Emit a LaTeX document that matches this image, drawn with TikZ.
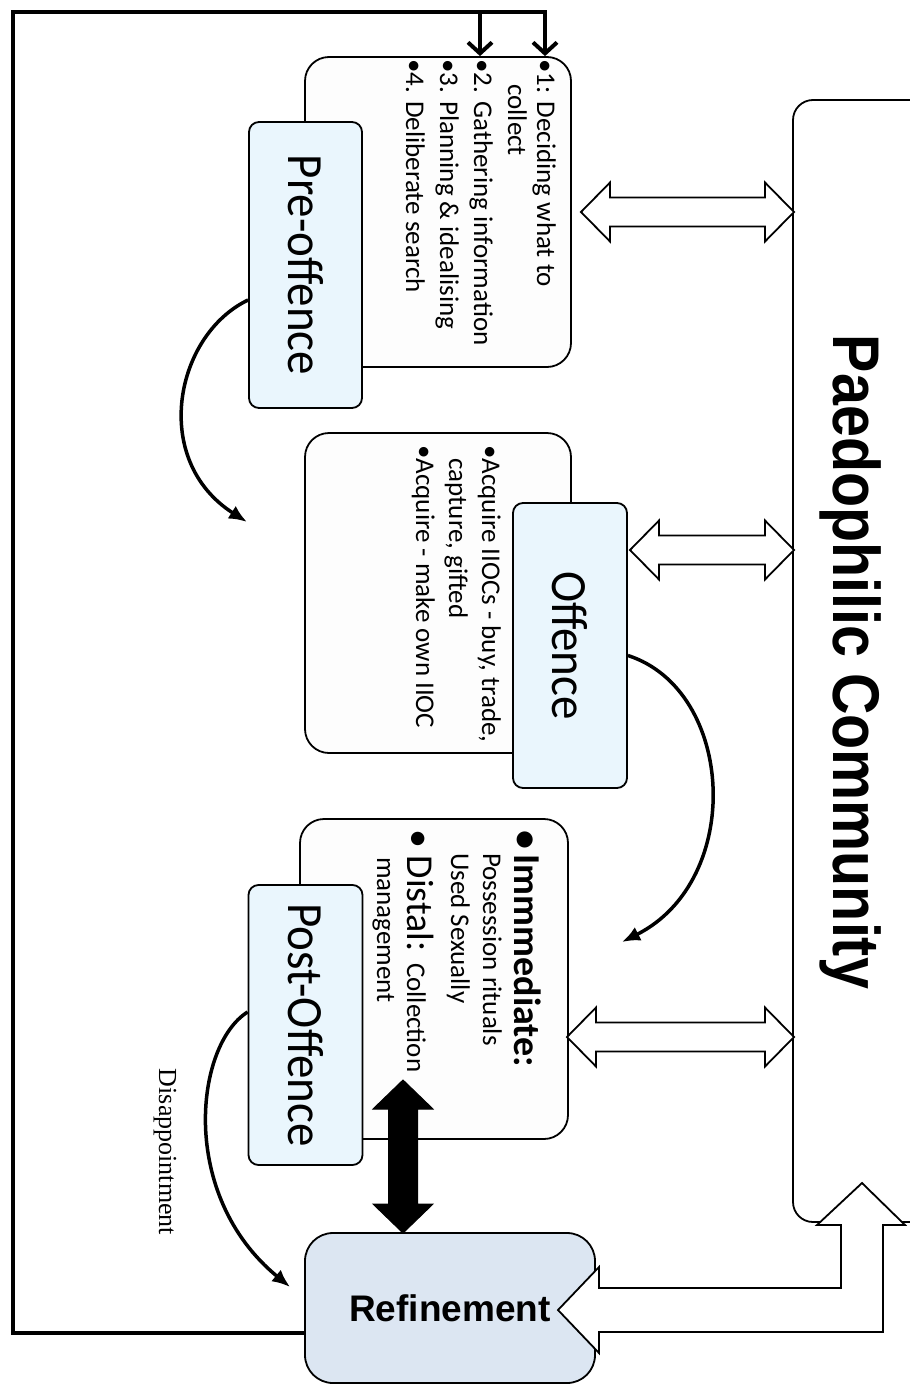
\documentclass[tikz,border=0pt]{standalone}
\usepackage{fontspec}
\usepackage{graphicx}
\setmainfont{Carlito}
\newfontfamily\arialfont{Liberation Sans}
\newfontfamily\timesfont{Liberation Serif}
\usetikzlibrary{arrows.meta}

\definecolor{labelblue}{HTML}{EAF6FD}
\definecolor{refineblue}{HTML}{DCE6F2}
\definecolor{paper}{HTML}{FDFDFD}

% horizontal hollow double arrow: #1 = centre y, #2 = left tip x, #3 = right tip x
\newcommand\hollowpair[3]{%
  \draw[hollowarrow] (#2,#1) -- (#2+29,#1-29.5) -- (#2+29,#1-14.5) -- (#3-29,#1-14.5)
    -- (#3-29,#1-29.5) -- (#3,#1) -- (#3-29,#1+29.5) -- (#3-29,#1+14.5)
    -- (#2+29,#1+14.5) -- (#2+29,#1+29.5) -- cycle;}

\tikzset{
  textbox/.style={draw=black, line width=1.8pt, rounded corners=24pt, fill=paper, inner sep=0pt},
  stagebox/.style={draw=black, line width=1.8pt, rounded corners=10pt, fill=labelblue,
    inner sep=0pt, font=\fontsize{47}{50}\selectfont},
  bodytext/.style={rotate=-90, anchor=north west, inner sep=0pt, align=left,
    font=\fontsize{27}{29}\selectfont},
  lineitem/.style={rotate=-90, anchor=base west, inner sep=0pt, font=\fontsize{27}{30}\selectfont},
  hollowarrow/.style={draw=black, line width=1.8pt, fill=white, line join=miter},
  solidarrow/.style={draw=black, fill=black, line width=1pt, line join=miter},
  flowcurve/.style={line width=3.5pt, -{Latex[length=18pt,width=15pt]}},
  looparrow/.style={line width=4pt, line join=miter, -{Straight Barb[length=11pt,width=24pt]}},
}

\begin{document}
\begin{tikzpicture}[x=1pt,y=-1pt]
\useasboundingbox (0,0) rectangle (910,1384);
\clip (0,0) rectangle (910,1384);

% community column on the right
\node[draw=black, line width=1.8pt, rounded corners=20pt, fill=white, inner sep=0pt,
      minimum width=140pt, minimum height=1122pt] (community) at (863,661) {};
\node[inner sep=0pt, font=\arialfont\bfseries\fontsize{66}{70}\selectfont] (commtitle) at (851,662)
  {\rotatebox{-90}{\scalebox{0.87}[1]{Paedophilic Community}}};

% refinement stage
\node[draw=black, line width=1.8pt, rounded corners=28pt, fill=refineblue, inner sep=0pt,
      minimum width=290pt, minimum height=150pt,
      font=\arialfont\bfseries\fontsize{37}{40}\selectfont] (refine) at (450,1308) {Refinement};

% pre-offence stage
\node[textbox, minimum width=266pt, minimum height=310pt] (prebox) at (438,212) {};
\node[bodytext] (pretext) at (556,59)
  {•1: Deciding what to\\\hspace*{0.93em}collect\\[5pt]
   •2. Gathering information\\[5pt]
   •3. Planning \& idealising\\[5pt]
   •4. Deliberate search};
\node[stagebox, minimum width=113pt, minimum height=286pt] (prelabel) at (305.5,265)
  {\rotatebox{-90}{\scalebox{1}[1.08]{Pre-offence}}};

% offence stage
\node[textbox, minimum width=266pt, minimum height=320pt] (offbox) at (438,593) {};
\node[bodytext, font=\fontsize{27}{33}\selectfont] (offtext) at (501,445)
  {•Acquire IIOCs - buy, trade,\\\hspace*{0.5em}capture, gifted\\•Acquire - make own IIOC};
\node[stagebox, minimum width=114pt, minimum height=285pt] (offlabel) at (570,645.5)
  {\rotatebox{-90}{\scalebox{1}[1.08]{Offence}}};

% post-offence stage
\node[textbox, minimum width=268pt, minimum height=320pt] (postbox) at (434,979) {};
\node[lineitem, font=\bfseries\fontsize{38}{40}\selectfont] (postimm) at (514,830)
  {•\hspace{0.15em}Immmediate:};
\node[lineitem] (postposs) at (483,853) {Possession rituals};
\node[lineitem] (postsex) at (451,853) {Used Sexually};
\node[lineitem, font=\fontsize{38}{40}\selectfont] (postdist) at (407,829)
  {•\hspace{0.2em}Distal: {\fontsize{27}{30}\selectfont Collection}};
\node[lineitem] (postmgmt) at (377,857) {management};
\node[stagebox, minimum width=114pt, minimum height=280pt] (postlabel) at (305.5,1025)
  {\rotatebox{-90}{\scalebox{1}[1.08]{Post-Offence}}};

% exchange with the community
\hollowpair{212}{581}{794}
\hollowpair{550}{630}{794}
\hollowpair{1037}{567}{794}

% post-offence <-> refinement
\draw[solidarrow] (403,1080) -- (433,1109) -- (417.5,1109) -- (417.5,1204) -- (433,1204)
  -- (403,1233) -- (373,1204) -- (388.5,1204) -- (388.5,1109) -- (373,1109) -- cycle;

% community <-> refinement (bent)
\draw[hollowarrow] (558,1310) -- (599,1267) -- (599,1288) -- (841,1288) -- (841,1225)
  -- (817,1225) -- (862,1183) -- (905,1225) -- (883,1225) -- (883,1332)
  -- (599,1332) -- (599,1353) -- cycle;

% stage-to-stage curves
\coordinate (c1end) at (247,522);
\coordinate (c2end) at (622,942);
\draw[flowcurve] ([yshift=-35pt]prelabel.west) .. controls (175,335) and (150,460) .. (c1end);
\draw[flowcurve] ([yshift=-10pt]offlabel.east) .. controls (735,690) and (745,880) .. (c2end);
\draw[flowcurve] ([yshift=13pt]postlabel.west) .. controls (195,1045) and (178,1195)
  .. ([xshift=-14pt,yshift=21pt]refine.west);

\node[inner sep=0pt, font=\timesfont\fontsize{26}{28}\selectfont] (disapp) at (165,1152)
  {\rotatebox{-90}{Disappointment}};

% feedback loop back to the start
\coordinate (loopbl) at (13,1333);
\coordinate (looptl) at (13,12);
\coordinate (looptr) at (545,12);
\coordinate (loopmid) at (480,12);
\draw[looparrow] ([yshift=-25pt]refine.west) -- (loopbl) -- (looptl) -- (looptr)
  -- (looptr |- prebox.north);
\draw[looparrow] (loopmid) -- (loopmid |- prebox.north);
\end{tikzpicture}
\end{document}
